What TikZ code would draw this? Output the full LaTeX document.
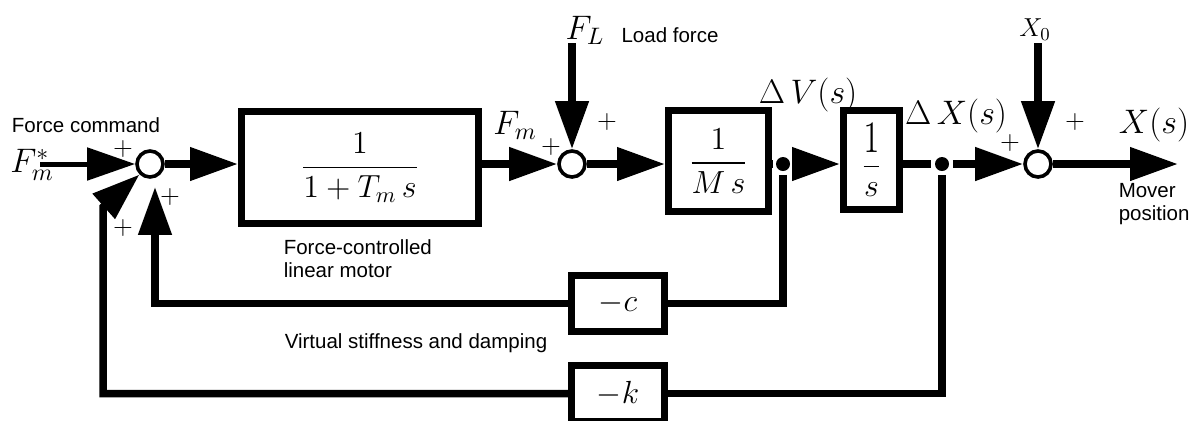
\RequirePackage{fix-cm}
\documentclass[tikz,border=0pt]{standalone}
\usepackage{amsmath}
\usepackage{graphicx}
\usepackage{fontspec}
\setsansfont{Liberation Sans}
\usetikzlibrary{arrows.meta}
\begin{document}
\begin{tikzpicture}[x=0.5pt,y=-0.5pt,
  line width=3.75pt, line join=miter,
  arr/.style={-{Triangle[length=24pt,width=16pt]}},
  blk/.style={draw, line width=3.5pt, fill=white, inner sep=0pt},
  sumc/.style={draw, circle, line width=1.8pt, minimum size=13pt, inner sep=0pt, fill=white},
  dot/.style={circle, fill, inner sep=0pt, minimum size=7pt},
  lbl/.style={font=\sffamily\fontsize{10.25}{11.5}\selectfont, inner sep=0pt},
  mth/.style={font=\fontsize{16}{19}\selectfont, inner sep=0pt},
  mthl/.style={font=\fontsize{17}{20}\selectfont, inner sep=0pt},
  pl/.style={font=\fontsize{13}{15}\selectfont, inner sep=0pt}]
\useasboundingbox (0,0) rectangle (1198,420);

% summing junctions
\node[sumc] (s1) at (150,164) {};
\node[sumc] (s2) at (572,164) {};
\node[sumc] (s3) at (1038,164) {};

% blocks
\node[blk, minimum width=118.5pt, minimum height=56pt, mth] (b1) at (360,167.5)
  {$\dfrac{1}{1+T_m\,s}$};
\node[blk, minimum width=50pt, minimum height=50.5pt, mth] (b2) at (718.5,161)
  {$\dfrac{1}{M\,s}$};
\node[blk, minimum width=28pt, minimum height=49.5pt, mth] (b3) at (871.5,160)
  {$\dfrac{\scalebox{1}[1.4]{$1$}}{s}$};
\node[blk, minimum width=46.5pt, minimum height=28pt, mth] (cneg) at (618,303.5) {$-c$};
\node[blk, minimum width=46.5pt, minimum height=28pt, mth] (kneg) at (618,393.5) {$-k$};

% branch points
\node[dot] (j1) at (783,164) {};
\node[dot] (j2) at (942,164) {};

% free ends
\coordinate (in) at (40,164);
\coordinate (fl) at (572,43);
\coordinate (x0) at (1038,43);
\coordinate (out) at (1178,164);
\coordinate (kc) at (103,207);

% forward path
\draw[arr, line width=2.5pt] (in) -- (s1.west);
\draw[arr] (s1.east) -- (s1.east -| b1.west);
\draw[arr] (b1.east |- s1) -- (s2.west);
\draw[arr] (s2.east) -- (s2.east -| b2.west);
\draw (b2.east |- s2) -- (j1);
\draw[arr] (j1) -- (j1 -| b3.west);
\draw (b3.east |- j1) -- (j2);
\draw[arr] (j2) -- (s3.west);
\draw[arr] (s3.east) -- (out);
\draw[arr] (fl) -- (s2.north);
\draw[arr] (x0) -- (s3.north);

% feedback paths
\draw (j1) |- (cneg.east);
\draw[arr] (cneg.west) -| ([xshift=2.5pt,yshift=-4pt]s1.south);
\draw (j2) |- (kneg.east);
\draw[arr] (kneg.west) -| (kc) -- (s1.south west);

% labels
\node[lbl] (lfc) at (86,125) {Force command};
\node[mthl] (lfm) at (32,165) {$F_m^*$};
\node[pl] (p1) at (123,149) {$+$};
\node[pl] (p2) at (170,197) {$+$};
\node[pl] (p3) at (123,228) {$+$};
\node[lbl, align=left, anchor=west] (lmot) at (280,259) {Force-controlled\\linear motor};
\node[mthl] (lfm2) at (515,125) {$F_m$};
\node[pl] (p4) at (551,147) {$+$};
\node[pl] (p5) at (607,122) {$+$};
\node[mthl] (lfl) at (585,30) {$F_L$};
\node[lbl] (lload) at (670,35) {Load force};
\node[mthl] (ldv) at (808,95) {$\Delta\,V(s)$};
\node[mthl] (ldx) at (956,116) {$\Delta\,X(s)$};
\node[mthl] (lx) at (1154,125) {$X(s)$};
\node[font=\fontsize{13}{15}\selectfont, inner sep=0pt] (lx0) at (1035,30) {$X_0$};
\node[pl] (p6) at (1010,143) {$+$};
\node[pl] (p7) at (1075,122) {$+$};
\node[lbl, align=left, anchor=west] (lmov) at (1115,204) {Mover\\position};
\node[lbl] (lvs) at (416,343) {Virtual stiffness and damping};
\end{tikzpicture}
\end{document}
